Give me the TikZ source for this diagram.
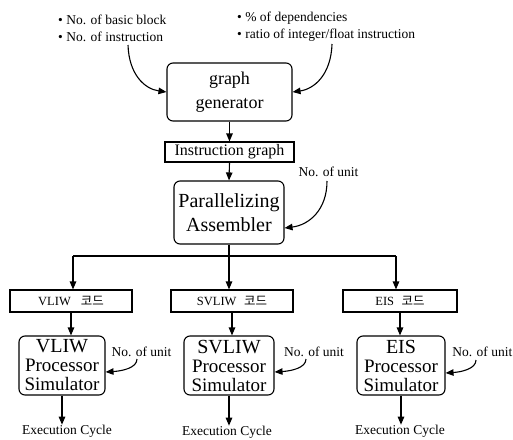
\documentclass[tikz,border=0pt]{standalone}
\usepackage{fontspec}
\setmainfont{Liberation Serif}
\newfontfamily\kr{Noto Sans CJK KR}
\usetikzlibrary{arrows.meta}
\begin{document}
\begin{tikzpicture}[x=1pt,y=-1pt,
  ln/.style={line width=1.1pt},
  arr/.style={ln,-{Triangle[length=8pt,width=6.5pt]}},
  rbox/.style={draw,ln,rounded corners=6pt,inner sep=0pt,align=center},
  sbox/.style={draw,ln,inner sep=0pt,align=center},
  lbl/.style={inner sep=0pt,font=\fontsize{13.5}{17}\selectfont},
  big/.style={font=\fontsize{18}{23.5}\selectfont},
  sim/.style={rbox,minimum height=59pt,font=\fontsize{19}{19}\selectfont},
  code/.style={sbox,minimum height=22pt,font=\fontsize{12.5}{14}\selectfont}]
\useasboundingbox[fill=white] (0,0) rectangle (513,439);

% top parameter texts
\node[lbl,anchor=west,align=left] (t1) at (58,28.5) {• No. of basic block\\• No. of instruction};
\node[lbl,anchor=west,align=left] (t2) at (237,26.5) {• \% of dependencies\\• ratio of integer/float instruction};
\coordinate (s1) at (128,45);
\coordinate (s2) at (332,44);

% main chain
\node[rbox,big,minimum width=125pt,minimum height=58pt] (gen) at (229.5,92) {graph\\generator};
\node[sbox,font=\fontsize{16}{18}\selectfont,minimum width=129pt,minimum height=20pt] (ig) at (229.5,152) {Instruction graph};
\node[rbox,font=\fontsize{20}{24}\selectfont,minimum width=110pt,minimum height=63pt] (pa) at (229,212.5) {Parallelizing\\Assembler};
\node[lbl] (nu0) at (328.5,172) {No. of unit};
\coordinate (s3) at (327,181);

\draw[arr] (s1) .. controls (129,75) and (145,89) .. (gen.west);
\draw[arr] (s2) .. controls (331,75) and (314,89) .. (gen.east);
\draw[arr] (gen.south) -- (ig.north);
\draw[arr] (ig.south) -- (pa.north);
\draw[arr] (s3) .. controls (327,210) and (309,225) .. ([yshift=-15.5pt]pa.east);

% branching
\coordinate (j) at (229,256);
\coordinate (jl) at (73,256);
\coordinate (jr) at (396,256);
\draw[ln] (pa.south) -- (j);
\draw[ln] (jl) -- (jr);

% code boxes
\node[code,minimum width=122pt] (vc) at (71,301) {VLIW\hspace{0.8em}{\kr 코드}};
\node[code,minimum width=122pt] (sc) at (232,301) {SVLIW\hspace{0.6em}{\kr 코드}};
\node[code,minimum width=114pt] (ec) at (400,301) {EIS\hspace{0.6em}{\kr 코드}};
\draw[arr] (jl) -- (jl |- vc.north);
\draw[arr] (j) -- (j |- sc.north);
\draw[arr] (jr) -- (jr |- ec.north);

% simulators
\node[sim,minimum width=86pt] (vs) at (62,365.5) {{\fontsize{20}{19}\selectfont VLIW}\\Processor\\Simulator};
\node[sim,minimum width=90pt] (ss) at (229,365.5) {{\fontsize{20}{19}\selectfont SVLIW}\\Processor\\Simulator};
\node[sim,minimum width=88pt] (es) at (401,365.5) {{\fontsize{20}{19}\selectfont EIS}\\Processor\\Simulator};
\draw[arr] (vc.south) -- (vc.south |- vs.north);
\draw[arr] (sc.south) -- (sc.south |- ss.north);
\draw[arr] (ec.south) -- (ec.south |- es.north);

% unit inputs
\node[lbl] (nu1) at (141.5,352) {No. of unit};
\node[lbl] (nu2) at (314,352) {No. of unit};
\node[lbl,anchor=east] (nu3) at (512.5,352) {No. of unit};
\coordinate (u1) at (137,359);
\coordinate (u2) at (306,359);
\coordinate (u3) at (476,360);
\draw[arr] (u1) .. controls (137,368) and (122,371) .. ([yshift=-6.5pt]vs.east);
\draw[arr] (u2) .. controls (306,368) and (291,371) .. ([yshift=-6.5pt]ss.east);
\draw[arr] (u3) .. controls (476,369) and (461,372) .. ([yshift=-7.5pt]es.east);

% outputs
\node[lbl] (x1) at (67,431) {Execution Cycle};
\node[lbl] (x2) at (227,432) {Execution Cycle};
\node[lbl] (x3) at (400,431) {Execution Cycle};
\draw[arr] (vs.south) -- (vs.south |- x1.north);
\draw[arr] (ss.south) -- (ss.south |- x2.north);
\draw[arr] (es.south) -- (es.south |- x3.north);
\end{tikzpicture}
\end{document}
